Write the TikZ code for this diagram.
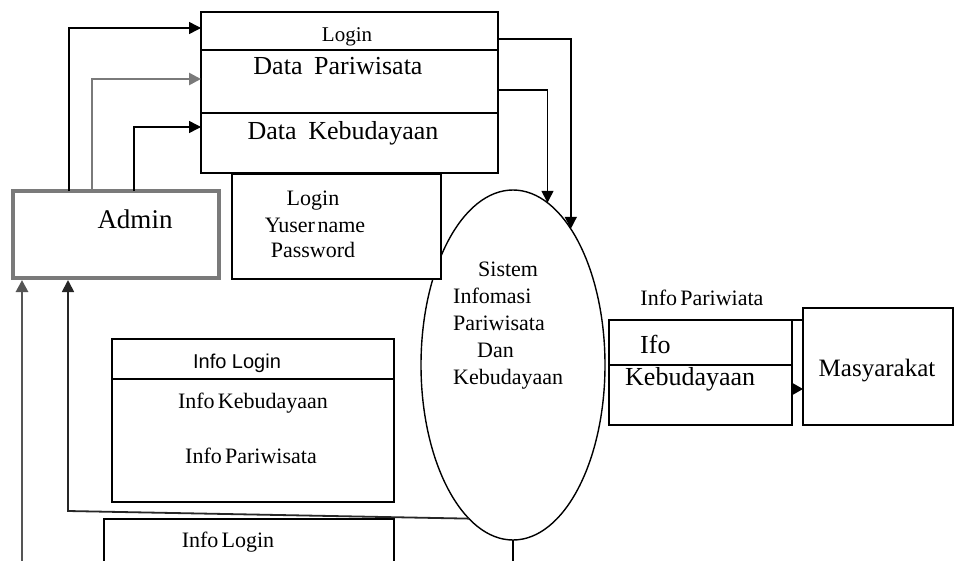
\documentclass[tikz,border=0pt]{standalone}
\usepackage{fontspec}
\setmainfont{Liberation Serif}
\newfontfamily\arialf{Liberation Sans}
\usetikzlibrary{shapes.geometric,arrows.meta}
\definecolor{admgray}{HTML}{7A7A7A}
\definecolor{dkgray}{HTML}{555555}
\newcommand\setfs[1]{\fontsize{#1}{#1}\selectfont}
\begin{document}
\begin{tikzpicture}[x=1pt,y=-1pt,
  box/.style={draw, line width=1.5pt, rectangle, outer sep=0pt, inner sep=0pt, anchor=north west},
  arr/.style={line width=1.5pt, -{Triangle[length=12pt,width=12pt]}},
  txt/.style={inner sep=0pt, anchor=base},
  txtw/.style={inner sep=0pt, anchor=base west},
  ln/.style={line width=1.5pt}
]
\useasboundingbox (0,0) rectangle (955,560);
\clip (0,0) rectangle (955,560);
\fill[white] (0,0) rectangle (955,560);

% top data store
\node[box, minimum width=297, minimum height=161] (topbox) at (201,12) {};
\draw[ln] ([yshift=-38]topbox.north west) -- ([yshift=-38]topbox.north east);
\draw[ln] ([yshift=-101]topbox.north west) -- ([yshift=-101]topbox.north east);
\node[txt] (tLogin) at (347,41) {\setfs{21}Login};
\node[txt] (tDP) at (338,74) {\setfs{26}Data\hspace{0.45em}Pariwisata};
\node[txt] (tDK) at (343,139) {\setfs{26}Data\hspace{0.45em}Kebudayaan};

% ellipse process
\node[draw, ellipse, line width=1.4pt, minimum width=184, minimum height=350, inner sep=0pt, outer sep=0pt] (sys) at (513,365) {};
\node[txtw] (s1) at (478,276) {\setfs{22}Sistem};
\node[txtw] (s2) at (453,303) {\setfs{22}Infomasi};
\node[txtw] (s3) at (453,330) {\setfs{22}Pariwisata};
\node[txtw] (s4) at (477,357) {\setfs{22}Dan};
\node[txtw] (s5) at (453,384) {\setfs{22}Kebudayaan};

% login box
\node[box, fill=white, minimum width=209, minimum height=105] (loginbox) at (232,174) {};
\node[txt] (l1) at (313,205) {\setfs{22}Login};
\node[txt] (l2) at (315,232) {\setfs{22}Yuser\hspace{0.12em}name};
\node[txt] (l3) at (313,257) {\setfs{22}Password};

% admin
\node[box, draw=admgray, line width=4.5pt, minimum width=206, minimum height=87] (admin) at (13,191) {};
\node[txt] (tAdmin) at (135,228) {\setfs{27}Admin};

% admin -> top box
\draw[arr] ([xshift=56]admin.north west) |- ([yshift=-16]topbox.north west);
\draw[arr, draw=admgray, line width=2.6pt] ([xshift=79]admin.north west) |- ([yshift=-67]topbox.north west);
\draw[arr] ([xshift=121]admin.north west) |- ([yshift=-115]topbox.north west);

% top box -> ellipse
\draw[arr] ([yshift=-27]topbox.north east) -| (sys.67);
\draw[arr] ([yshift=-78]topbox.north east) -| (sys.78);

% info box 1
\node[box, minimum width=282, minimum height=163] (info1) at (112,339) {};
\draw[ln] ([yshift=-40]info1.north west) -- ([yshift=-40]info1.north east);
\node[txt] (i1) at (237,368) {\arialf\setfs{20}Info Login};
\node[txt] (i2) at (253,408) {\setfs{22}Info\hspace{0.15em}Kebudayaan};
\node[txt] (i3) at (251,463) {\setfs{22}Info\hspace{0.15em}Pariwisata};

% info box 2
\node[box, minimum width=290, minimum height=80] (info2) at (104,519) {};
\node[txt] (i4) at (228,547) {\setfs{22}Info\hspace{0.15em}Login};

% feedback lines to admin
\coordinate (fb) at (68,511);
\draw[arr, line width=1.8pt, draw=black!85, shorten >=2pt] (sys.254) -- (fb) -- (fb |- admin.south);
\coordinate (lb) at (22,575);
\draw[arr, draw=dkgray, line width=2.8pt, shorten >=2pt] (lb) -- (lb |- admin.south);
\draw[line width=1.4pt] (sys.south) -- (sys.south |- lb);

% Ifo box and Masyarakat
\node[txt] (ip) at (702,305) {\setfs{22}Info\hspace{0.15em}Pariwiata};
\node[box, minimum width=183, minimum height=105] (ifo) at (609,320) {};
\draw[ln] ([yshift=-45]ifo.north west) -- ([yshift=-45]ifo.north east);
\node[txtw] (if1) at (640,353) {\setfs{26}Ifo};
\node[txtw] (if2) at (625,385) {\setfs{26}Kebudayaan};
\node[box, minimum width=150, minimum height=117] (masy) at (803,308) {};
\node[txt] (tM) at (877,376) {\setfs{25}Masyarakat};
\draw[ln] (ifo.north east) -- (ifo.north east -| masy.west);
\coordinate (ifoa) at ([yshift=-69]ifo.north east);
\draw[ln, -{Triangle[length=10pt,width=11pt]}] (ifoa) -- (ifoa -| masy.west);
\end{tikzpicture}
\end{document}
